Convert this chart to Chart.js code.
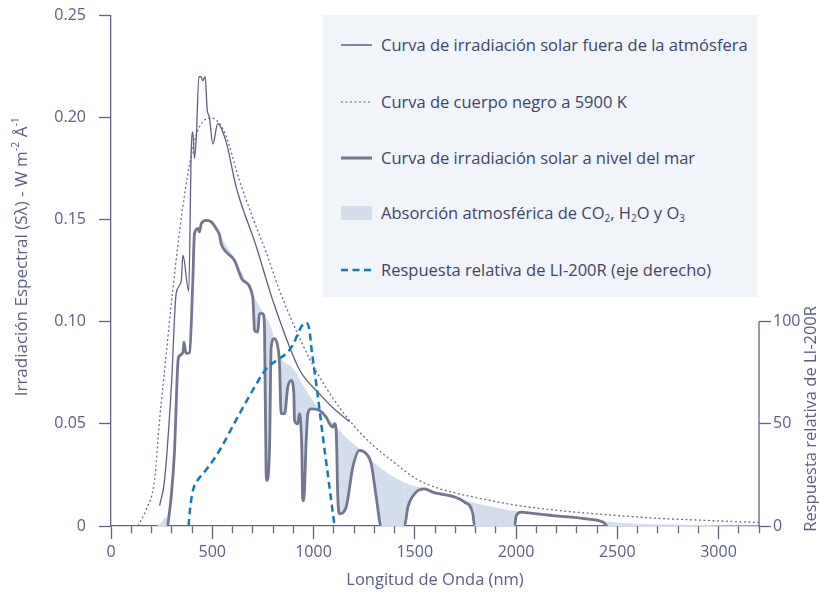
<!DOCTYPE html>
<html><head><meta charset="utf-8">
<script src="https://cdn.jsdelivr.net/npm/chart.js@4.4.1/dist/chart.umd.min.js"></script>
<style>
html,body{margin:0;padding:0;background:#fff;}
#wrap{position:relative;width:819px;height:593px;}
#c{position:absolute;left:0;top:0;}
#legend{position:absolute;left:323px;top:15px;width:434px;height:282px;background:#f1f5fa;font-family:'Open Sans',sans-serif;font-size:16.5px;color:#3e4463;}
.item{position:absolute;left:18px;height:24px;display:flex;align-items:center;white-space:nowrap;}
.item svg{margin-right:9px;flex:none;}
.item span{display:inline-block;line-height:24px;}
sub{font-size:10px;vertical-align:-3px;line-height:0;}
</style></head>
<body>
<div id="wrap">
<canvas id="c" width="819" height="593"></canvas>
<div id="legend">
 <div class="item" style="top:18px"><svg width="31" height="6"><line x1="0" y1="3" x2="31" y2="3" stroke="#5c6082" stroke-width="1.5"/></svg><span>Curva de irradiación solar fuera de la atmósfera</span></div>
 <div class="item" style="top:75px"><svg width="31" height="6"><line x1="0" y1="3" x2="31" y2="3" stroke="#8a8ea8" stroke-width="1.5" stroke-dasharray="2,2.5"/></svg><span>Curva de cuerpo negro a 5900 K</span></div>
 <div class="item" style="top:131px"><svg width="31" height="6"><line x1="0" y1="3" x2="31" y2="3" stroke="#72768f" stroke-width="3"/></svg><span>Curva de irradiación solar a nivel del mar</span></div>
 <div class="item" style="top:186px"><svg width="31" height="14"><rect x="0" y="0" width="31" height="14" fill="#d3ddeb"/></svg><span>Absorción atmosférica de CO<sub>2</sub>, H<sub>2</sub>O y O<sub>3</sub></span></div>
 <div class="item" style="top:243px"><svg width="31" height="6"><line x1="0" y1="3" x2="31" y2="3" stroke="#1677bf" stroke-width="2.5" stroke-dasharray="7,4.5"/></svg><span>Respuesta relativa de LI-200R (eje derecho)</span></div>
</div>
</div>
<script>
// ---- tick labels ----
const xTicksMajor = [0, 500, 1000, 1500, 2000, 2500, 3000];
const yTicksLeft = [0, 0.05, 0.10, 0.15, 0.20, 0.25];
const yTicksRight = [0, 50, 100];

// ---- extraterrestrial solar irradiance (thin solid) ----
const extraNm  = [240, 264, 298, 322, 347, 355, 384, 396, 404, 412, 421, 434, 445, 453, 465, 475, 486, 503, 527, 569, 618, 717, 799, 931, 1030, 1100, 1178];
const extraIrr = [0.010, 0.022, 0.068, 0.114, 0.120, 0.1326, 0.115, 0.1826, 0.193, 0.180, 0.190, 0.220, 0.220, 0.218, 0.220, 0.204, 0.200, 0.187, 0.197, 0.188, 0.166, 0.137, 0.1105, 0.0765, 0.0647, 0.0575, 0.0511];

// ---- blackbody 5900 K (dotted) ----
const bbNm  = [133, 174, 215, 240, 273, 305, 353, 402, 437, 496, 560, 635, 700, 768, 832, 900, 980, 1030, 1100, 1200, 1300, 1400, 1500, 1600, 1700, 1800, 2000, 2200, 2400, 2700, 3000, 3200];
const bbIrr = [0, 0.008, 0.0225, 0.052, 0.0845, 0.1155, 0.155, 0.184, 0.1955, 0.1998, 0.193, 0.169, 0.151, 0.1336, 0.1154, 0.099, 0.082, 0.073, 0.062, 0.049, 0.039, 0.031, 0.0235, 0.019, 0.0162, 0.014, 0.0102, 0.0077, 0.0059, 0.0038, 0.0025, 0.0017];

// ---- sea level solar irradiance (thick) ----
const seaNm  = [280, 297, 313, 330, 335, 355, 360, 371, 388, 404, 412, 429, 437, 445, 470, 495, 519, 536, 544, 569, 610, 651, 700, 709, 725, 733, 750, 758, 766, 771, 783, 791, 807, 824, 832, 840, 857, 873, 890, 903, 906, 922, 931, 942, 947, 952, 964, 972, 989, 1030, 1063, 1079, 1095, 1104, 1112, 1120, 1128, 1161, 1194, 1227, 1260, 1285, 1310, 1334, 1449, 1466, 1507, 1548, 1589, 1746, 1787, 1795, 1993, 2001, 2026, 2050, 2182, 2347, 2429, 2453, 3200];
const seaIrr = [0, 0.0141, 0.0355, 0.0795, 0.083, 0.085, 0.090, 0.0845, 0.085, 0.120, 0.143, 0.1457, 0.144, 0.148, 0.1497, 0.1489, 0.1457, 0.1424, 0.1383, 0.1342, 0.130, 0.1203, 0.1121, 0.0958, 0.095, 0.104, 0.104, 0.0975, 0.0256, 0.0223, 0.0386, 0.0876, 0.0918, 0.0876, 0.0795, 0.055, 0.055, 0.068, 0.0713, 0.0648, 0.0517, 0.050, 0.055, 0.0386, 0.0125, 0.0125, 0.0419, 0.055, 0.0574, 0.0566, 0.0533, 0.0501, 0.0484, 0.0501, 0.0468, 0.0141, 0.006, 0.0092, 0.0288, 0.037, 0.0354, 0.0305, 0.0141, 0, 0, 0.0092, 0.0166, 0.0182, 0.0166, 0.0117, 0.006, 0, 0, 0.0051, 0.0068, 0.0065, 0.0051, 0.0035, 0.0019, 0, 0];

// ---- upper edge of atmospheric absorption band ----
const absNm  = [519, 536, 550, 575, 610, 651, 700, 750, 783, 807, 832, 900, 950, 1000, 1050, 1100, 1150, 1200, 1250, 1300, 1400, 1500, 1550, 1600, 1700, 1750, 1800, 1900, 2000, 2050, 2200, 2350, 2450, 2550, 2700, 3000, 3200];
const absTop = [0.1457, 0.1428, 0.1405, 0.1365, 0.131, 0.123, 0.1135, 0.1045, 0.099, 0.092, 0.0835, 0.077, 0.0685, 0.061, 0.055, 0.0502, 0.0445, 0.040, 0.036, 0.031, 0.0238, 0.0195, 0.0186, 0.0168, 0.0138, 0.0125, 0.0112, 0.0090, 0.0072, 0.0068, 0.0055, 0.0040, 0.0022, 0.0014, 0.0008, 0.0004, 0.0002];
const absUvNm  = [228, 250, 276, 281];
const absUvTop = [0, 0.002, 0.0045, 0];

// ---- LI-200R relative response (right axis) ----
const liNm   = [383, 388, 395, 405, 425, 470, 536, 618, 700, 767, 832, 866, 900, 931, 950, 964, 980, 990, 1013, 1046, 1079, 1104];
const liResp = [0, 6, 12, 17.6, 22, 27.5, 37, 52, 66.5, 77, 82, 84.5, 89, 96, 99, 99.5, 96, 87, 70, 44, 19, 0];

const pts = (xs, ys) => xs.map((x, i) => ({x: x, y: ys[i]}));

const axisColor = '#5f6486';
const textColor = '#5b6080';
const FONT = "'Open Sans', sans-serif";
const tickFont = {family: FONT, size: 16};

const annot = {
  id: 'annot',
  afterDraw(chart) {
    const ctx = chart.ctx;
    const ca = chart.chartArea;
    const y2 = chart.scales.y2;
    ctx.save();
    // partial right axis line (0 to 100)
    const p0 = y2.getPixelForValue(yTicksRight[0]);
    const p1 = y2.getPixelForValue(yTicksRight[yTicksRight.length - 1]);
    ctx.strokeStyle = axisColor; ctx.lineWidth = 1.3;
    ctx.beginPath(); ctx.moveTo(y2.left, p0 + 0.65); ctx.lineTo(y2.left, p1); ctx.stroke();
    ctx.fillStyle = textColor;
    ctx.textBaseline = 'middle';
    // right title
    ctx.save();
    ctx.translate(811, (p0 + p1) / 2 - 5);
    ctx.rotate(-Math.PI / 2);
    ctx.font = "16.5px " + FONT;
    ctx.textAlign = 'center';
    ctx.fillText('Respuesta relativa de LI-200R', 0, 0);
    ctx.restore();
    // left title with superscripts
    const parts = [['Irradiación Espectral (Sλ) - W m', 17, 0], ['-2', 10.5, -6], [' Å', 17, 0], ['-1', 10.5, -6]];
    let total = 0;
    parts.forEach(p => { ctx.font = p[1] + 'px ' + FONT; total += ctx.measureText(p[0]).width; });
    ctx.save();
    ctx.translate(22, (ca.top + ca.bottom) / 2 - 14);
    ctx.rotate(-Math.PI / 2);
    ctx.textAlign = 'left';
    let x = -total / 2;
    parts.forEach(p => { ctx.font = p[1] + 'px ' + FONT; ctx.fillText(p[0], x, p[2]); x += ctx.measureText(p[0]).width; });
    ctx.restore();
    // x title
    ctx.font = "16.5px " + FONT;
    ctx.textAlign = 'center';
    ctx.fillText('Longitud de Onda (nm)', (ca.left + ca.right) / 2, 580);
    ctx.restore();
  }
};

const zeroSeg = (ctx, color) => (ctx.p0.parsed.y === 0 && ctx.p1.parsed.y === 0) ? 'rgba(0,0,0,0)' : color;

new Chart(document.getElementById('c'), {
  type: 'line',
  data: {
    datasets: [
      {label: 'LI-200R', data: pts(liNm, liResp), yAxisID: 'y2', borderColor: '#1677bf', borderWidth: 2.5, borderDash: [7, 4.5], pointRadius: 0, fill: false, cubicInterpolationMode: 'monotone'},
      {label: 'sea', data: pts(seaNm, seaIrr), yAxisID: 'y', borderColor: '#72768f', borderWidth: 2.8, pointRadius: 0, fill: false, cubicInterpolationMode: 'monotone', borderJoinStyle: 'round',
        segment: {borderColor: c => zeroSeg(c, '#72768f')}},
      {label: 'extra', data: pts(extraNm, extraIrr), yAxisID: 'y', borderColor: '#5c6082', borderWidth: 1.3, pointRadius: 0, fill: false, cubicInterpolationMode: 'monotone'},
      {label: 'bb', data: pts(bbNm, bbIrr), yAxisID: 'y', borderColor: '#6b6f8c', borderWidth: 1.3, borderDash: [2, 2.5], pointRadius: 0, fill: false, cubicInterpolationMode: 'monotone'},
      {label: 'abs', data: pts(absNm, absTop), yAxisID: 'y', borderColor: 'rgba(0,0,0,0)', borderWidth: 0, pointRadius: 0, backgroundColor: '#d3ddeb', fill: {target: 1}, cubicInterpolationMode: 'monotone'},
      {label: 'absUv', data: pts(absUvNm, absUvTop), yAxisID: 'y', borderColor: 'rgba(0,0,0,0)', borderWidth: 0, pointRadius: 0, backgroundColor: '#d3ddeb', fill: 'origin', cubicInterpolationMode: 'monotone'}
    ]
  },
  options: {
    responsive: false,
    animation: false,
    events: [],
    layout: {autoPadding: false, padding: {top: 15.5, left: 0, right: 0, bottom: 0}},
    plugins: {legend: {display: false}, tooltip: {enabled: false}},
    scales: {
      x: {
        type: 'linear', min: 0, max: 3200,
        afterBuildTicks: s => { const t = []; for (let v = s.min; v <= s.max; v += 100) t.push({value: v}); s.ticks = t; },
        ticks: {autoSkip: false, maxRotation: 0, padding: 4, font: tickFont, color: textColor,
          callback: v => xTicksMajor.includes(v) ? String(v) : ''},
        grid: {drawOnChartArea: false, drawTicks: true, tickLength: 13, tickColor: axisColor, tickWidth: 1.3,
          tickBorderDash: c => (c.tick && xTicksMajor.includes(c.tick.value)) ? [] : [7, 20]},
        border: {display: true, color: axisColor, width: 1.3},
        afterFit: s => { s.height = 67; s.paddingLeft = 0; s.paddingRight = 0; }
      },
      y: {
        position: 'left', min: 0, max: 0.25,
        afterBuildTicks: s => { s.ticks = yTicksLeft.map(v => ({value: v})); },
        ticks: {padding: 13, font: tickFont, color: textColor, callback: v => v === 0 ? '0' : v.toFixed(2)},
        grid: {drawOnChartArea: false, drawTicks: true, tickLength: 12, tickColor: axisColor, tickWidth: 1.3},
        border: {display: true, color: axisColor, width: 1.3},
        afterFit: s => { s.width = 111; s.paddingTop = 0; s.paddingBottom = 0; }
      },
      y2: {
        position: 'right', min: 0, max: 250,
        afterBuildTicks: s => { s.ticks = yTicksRight.map(v => ({value: v})); },
        ticks: {padding: 2, font: tickFont, color: textColor},
        grid: {drawOnChartArea: false, drawTicks: true, tickLength: 12, tickColor: axisColor, tickWidth: 1.3},
        border: {display: false},
        afterFit: s => { s.width = 60; s.paddingTop = 0; s.paddingBottom = 0; }
      }
    }
  },
  plugins: [annot]
});
</script>
</body></html>
